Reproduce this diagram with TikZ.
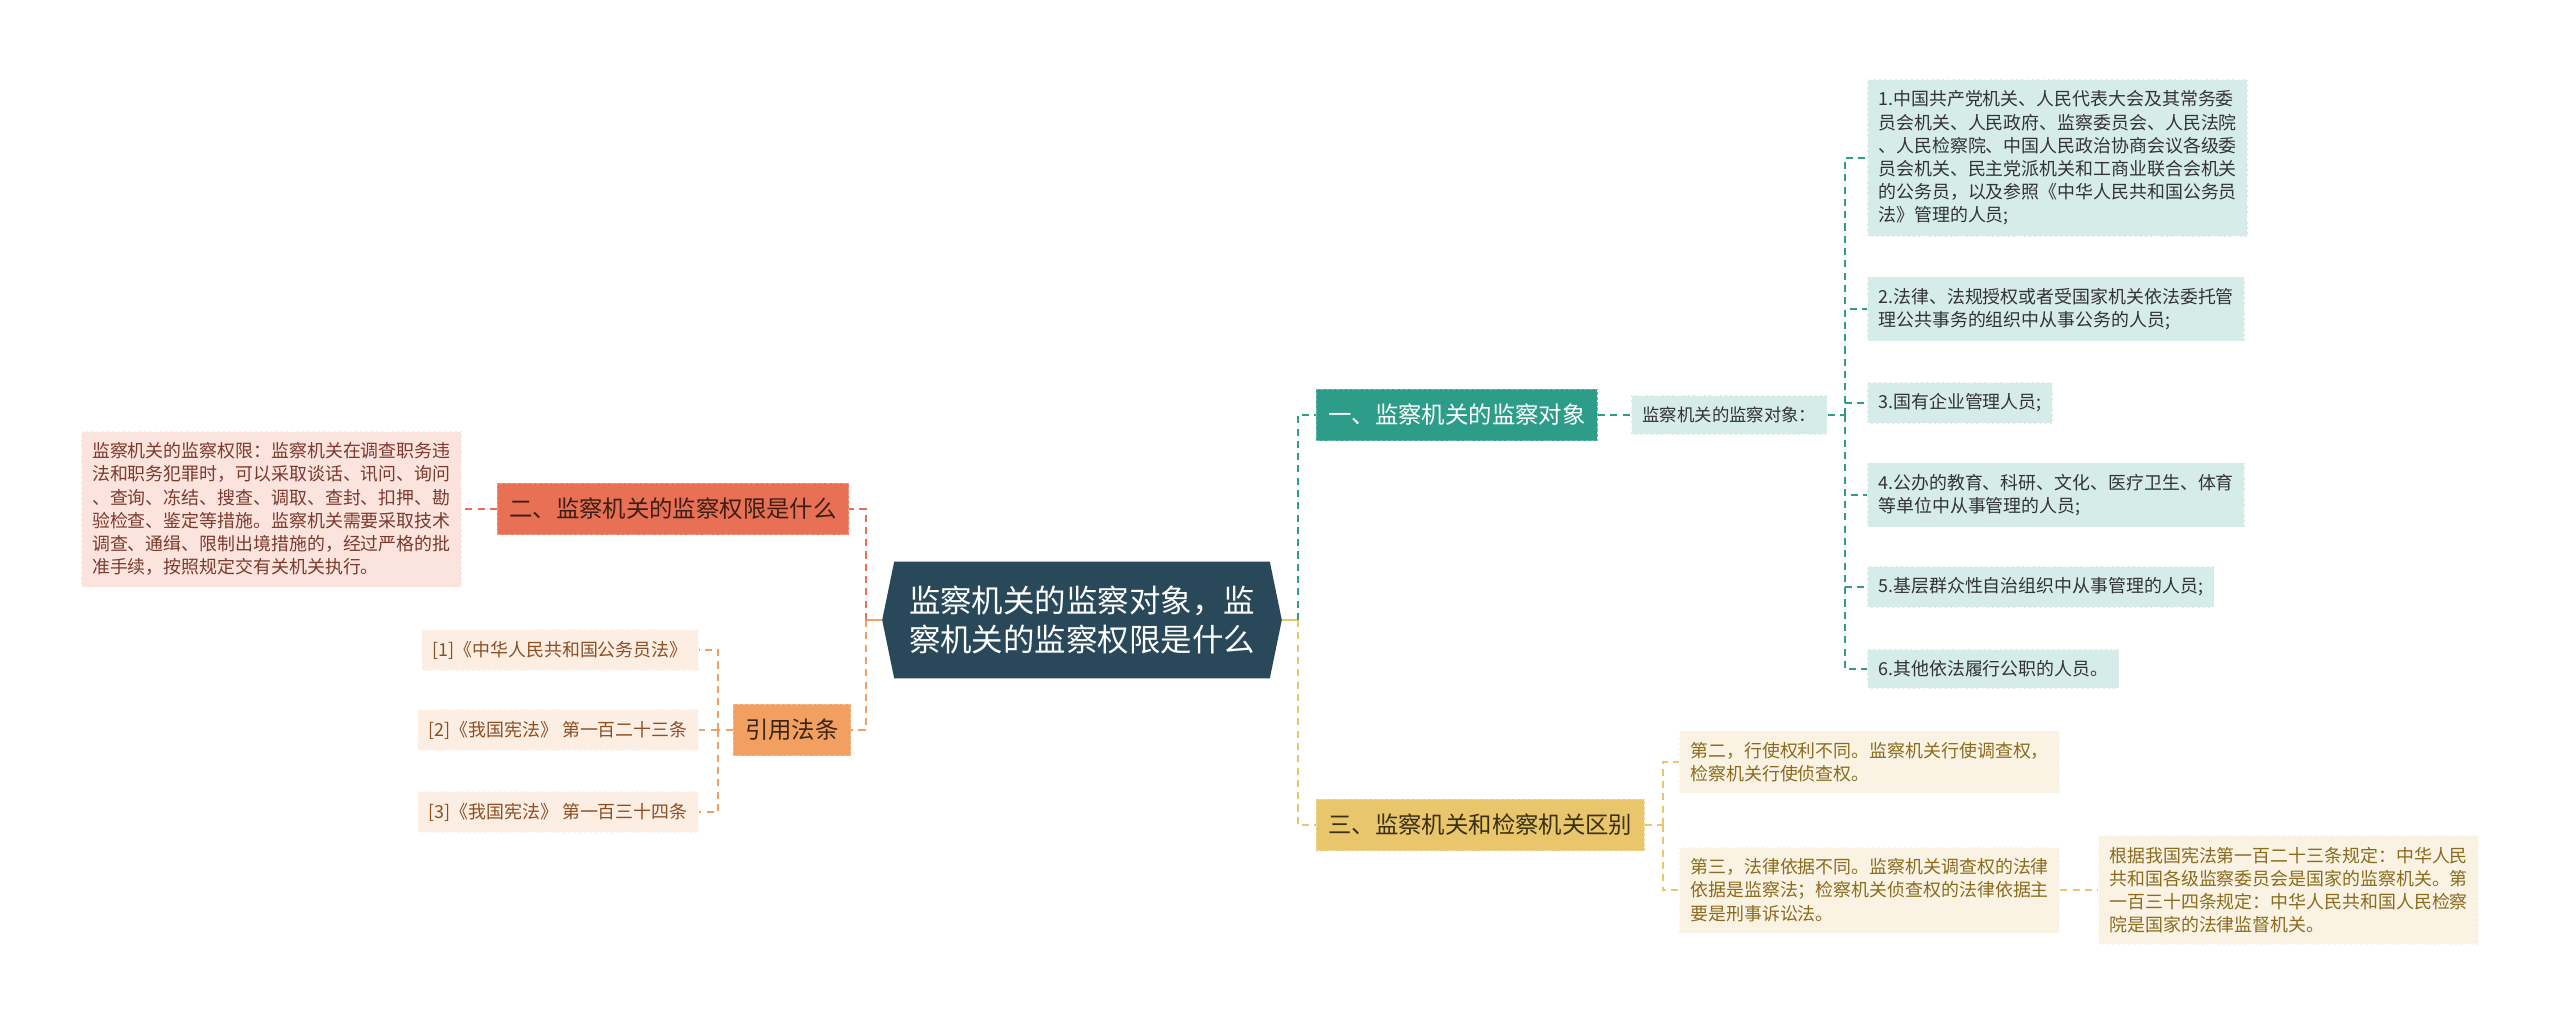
\documentclass[tikz,border=0pt]{standalone}
\usepackage{fontspec}
\setmainfont{Noto Sans CJK SC}
\usetikzlibrary{calc}
\pgfdeclarelayer{bg}
\pgfsetlayers{bg,main}

\definecolor{rootc}{HTML}{29495A}
\definecolor{tealc}{HTML}{2D9D8A}
\definecolor{tealpale}{HTML}{D6ECE9}
\definecolor{redc}{HTML}{E87054}
\definecolor{pinkc}{HTML}{FBE4DE}
\definecolor{orc}{HTML}{F1A062}
\definecolor{peachc}{HTML}{FDEEE4}
\definecolor{yelc}{HTML}{E9C56B}
\definecolor{creamc}{HTML}{FAF3E3}
\definecolor{darkt}{HTML}{333333}
\definecolor{redt}{HTML}{3D1F16}
\definecolor{pinkt}{HTML}{7B3A2C}
\definecolor{ort}{HTML}{3C2514}
\definecolor{peacht}{HTML}{8C4F22}
\definecolor{yelt}{HTML}{3A3015}
\definecolor{creamt}{HTML}{8A6B1F}

\begin{document}
\begin{tikzpicture}[x=0.02cm,y=-0.02cm,
	link/.style={line width=1.1pt,dash pattern=on 4pt off 3pt},
	stem/.style={line width=1.1pt},
	branch/.style={inner xsep=0.24cm,inner ysep=0.3cm,font=\fontsize{13.3}{16}\selectfont,fill=#1,draw=#1!70!white,dash pattern=on 2pt off 1pt,line width=0.5pt},
	leaf/.style={inner xsep=0.22cm,inner ysep=0.23cm,align=left,font=\fontsize{10.2}{13.2}\selectfont,fill=#1,draw=white,dash pattern=on 2pt off 1pt,line width=0.5pt}]

	\useasboundingbox (0,0) rectangle (2560,1025);

	\node[text=white,align=center,minimum width=7.98cm,minimum height=2.32cm,inner sep=0pt,font=\fontsize{17.9}{22.7}\selectfont] (root) at (1082,620) {监察机关的监察对象，监\\察机关的监察权限是什么};
	\begin{pgfonlayer}{bg}
		\fill[white] (0,0) rectangle (2560,1025);
		\fill[rootc] (root.west) -- ($(root.north west)+(12,0)$) -- ($(root.north east)+(-12,0)$) -- (root.east) -- ($(root.south east)+(-12,0)$) -- ($(root.south west)+(12,0)$) -- cycle;
	\end{pgfonlayer}

	\node[branch=tealc,text=white,anchor=west] (obj) at (1316,415) {一、监察机关的监察对象};
	\node[leaf=tealpale,text=darkt,anchor=west,font=\fontsize{9.9}{13}\selectfont] (objlist) at (1631,415) {监察机关的监察对象：};
	\node[leaf=tealpale,text=darkt,anchor=west] (obj1) at (1867,158) {1.中国共产党机关、人民代表大会及其常务委\\员会机关、人民政府、监察委员会、人民法院\\、人民检察院、中国人民政治协商会议各级委\\员会机关、民主党派机关和工商业联合会机关\\的公务员，以及参照《中华人民共和国公务员\\法》管理的人员;};
	\node[leaf=tealpale,text=darkt,anchor=west] (obj2) at (1867,309) {2.法律、法规授权或者受国家机关依法委托管\\理公共事务的组织中从事公务的人员;};
	\node[leaf=tealpale,text=darkt,anchor=west] (obj3) at (1867,403) {3.国有企业管理人员;};
	\node[leaf=tealpale,text=darkt,anchor=west] (obj4) at (1867,495) {4.公办的教育、科研、文化、医疗卫生、体育\\等单位中从事管理的人员;};
	\node[leaf=tealpale,text=darkt,anchor=west] (obj5) at (1867,587) {5.基层群众性自治组织中从事管理的人员;};
	\node[leaf=tealpale,text=darkt,anchor=west] (obj6) at (1867,669) {6.其他依法履行公职的人员。};

	\node[branch=yelc,text=yelt,anchor=west] (diff) at (1316,825) {三、监察机关和检察机关区别};
	\node[leaf=creamc,text=creamt,anchor=west] (diff1) at (1679,762) {第二，行使权利不同。监察机关行使调查权，\\检察机关行使侦查权。};
	\node[leaf=creamc,text=creamt,anchor=west] (diff2) at (1679,890) {第三，法律依据不同。监察机关调查权的法律\\依据是监察法；检察机关侦查权的法律依据主\\要是刑事诉讼法。};
	\node[leaf=creamc,text=creamt,anchor=west] (diff3) at (2098,890) {根据我国宪法第一百二十三条规定：中华人民\\共和国各级监察委员会是国家的监察机关。第\\一百三十四条规定：中华人民共和国人民检察\\院是国家的法律监督机关。};

	\node[branch=redc,text=redt,anchor=east] (power) at (849,509) {二、监察机关的监察权限是什么};
	\node[leaf=pinkc,text=pinkt,anchor=east] (powertext) at (462,509) {监察机关的监察权限：监察机关在调查职务违\\法和职务犯罪时，可以采取谈话、讯问、询问\\、查询、冻结、搜查、调取、查封、扣押、勘\\验检查、鉴定等措施。监察机关需要采取技术\\调查、通缉、限制出境措施的，经过严格的批\\准手续，按照规定交有关机关执行。};

	\node[branch=orc,text=ort,anchor=east] (law) at (851,730) {引用法条};
	\node[leaf=peachc,text=peacht,anchor=east] (law1) at (699,650) {[1]《中华人民共和国公务员法》};
	\node[leaf=peachc,text=peacht,anchor=east] (law2) at (699,730) {[2]《我国宪法》 第一百二十三条};
	\node[leaf=peachc,text=peacht,anchor=east] (law3) at (699,812) {[3]《我国宪法》 第一百三十四条};

	\draw[stem,orc] (root.west) -- ++(-16,0) coordinate (lj);
	\draw[link,redc] (lj) |- (power.east);
	\draw[link,orc] (lj) |- (law.east);
	\draw[link,redc] (power.west) -- (powertext.east);
	\draw[link,orc] (law.west) -- ++(-15,0) coordinate (lawj);
	\foreach \i in {1,2,3}
		\draw[link,orc] (lawj) |- (law\i.east);

	\draw[stem,yelc] (root.east) -- ++(16,0) coordinate (rj);
	\draw[link,tealc] (rj) |- (obj.west);
	\draw[link,yelc] (rj) |- (diff.west);
	\draw[link,tealc] (obj.east) -- (objlist.west);
	\draw[link,tealc] (objlist.east) -- ++(17,0) coordinate (objj);
	\foreach \i in {1,...,6}
		\draw[link,tealc] (objj) |- (obj\i.west);
	\draw[link,yelc] (diff.east) -- ++(18,0) coordinate (diffj);
	\foreach \i in {1,2}
		\draw[link,yelc] (diffj) |- (diff\i.west);
	\draw[link,yelc] (diff2.east) -- (diff3.west);
\end{tikzpicture}
\end{document}
